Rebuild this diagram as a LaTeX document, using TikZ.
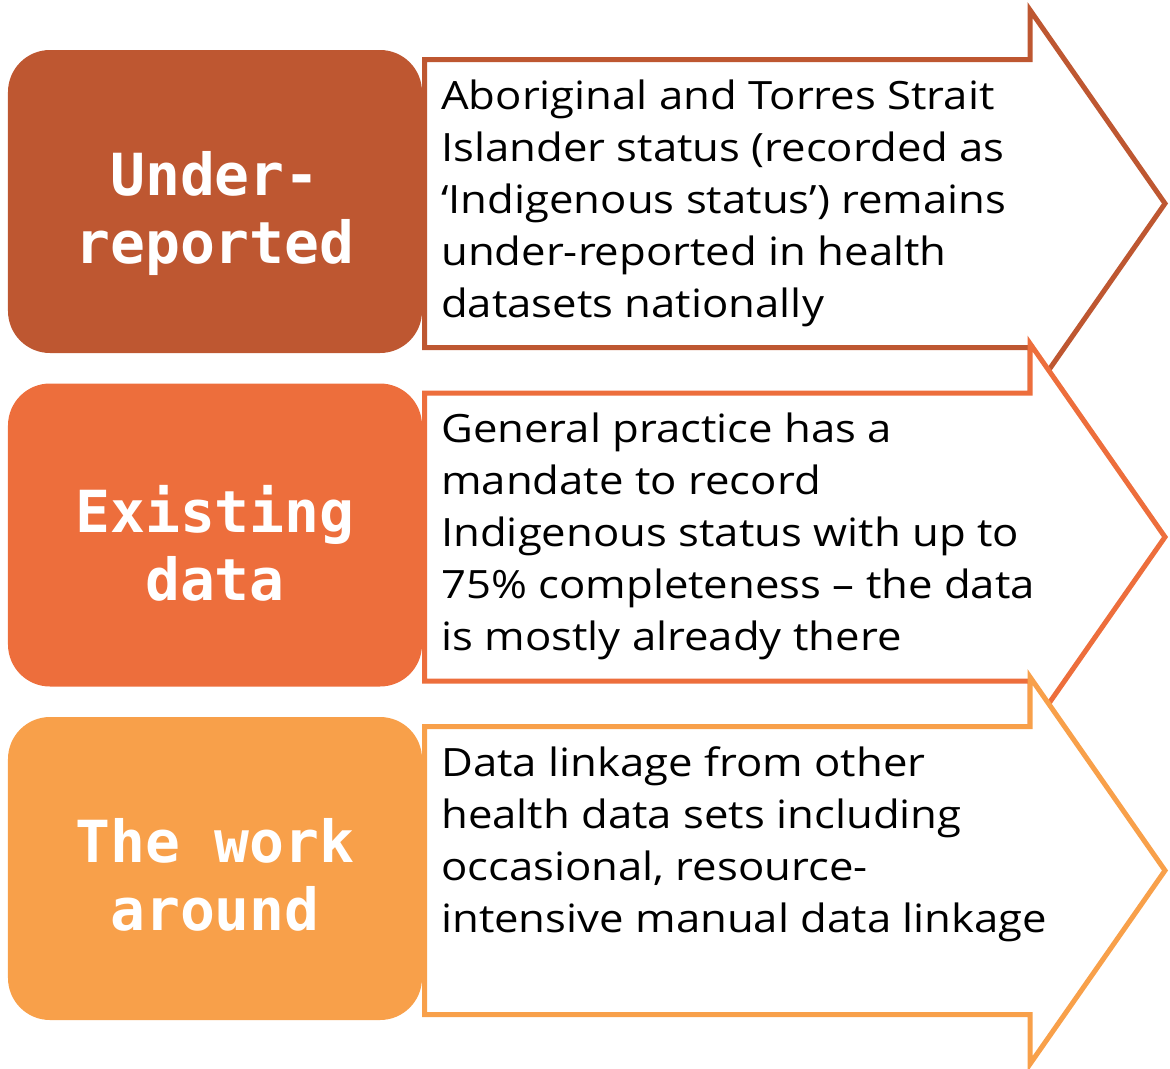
\documentclass[tikz,border=0pt]{standalone}
\usepackage{fontspec}
\setmainfont{Open Sans}[FakeStretch=1.12]
\newfontfamily\labelfont{DejaVu Sans Mono}
\definecolor{cA}{RGB}{190,87,49}
\definecolor{cB}{RGB}{237,110,60}
\definecolor{cC}{RGB}{248,160,74}
\tikzset{
  labelbox/.style={rectangle, rounded corners=42bp, minimum width=414bp, minimum height=303bp, inner sep=0pt, draw=none},
  labeltext/.style={anchor=north, align=center, inner sep=0pt, text=white, font=\labelfont\bfseries\fontsize{58bp}{68bp}\selectfont},
  arrowshape/.style={line width=5bp, miter limit=20, line join=miter, fill=white},
  bodytext/.style={anchor=north west, align=left, inner sep=0pt, text=black, font=\fontsize{39bp}{52bp}\selectfont}
}
\begin{document}
\begin{tikzpicture}[x=1bp,y=-1bp]
\useasboundingbox (0,0) rectangle (1170,1069);
% arrows
\draw[arrowshape, draw=cA] (424.5,59.5) -- (1030,59.5) -- (1030,10) -- (1165,203.5) -- (1030,397) -- (1030,347.5) -- (424.5,347.5) -- cycle;
\draw[arrowshape, draw=cB] (424.5,393) -- (1030,393) -- (1030,343.5) -- (1165,537) -- (1030,730.5) -- (1030,681) -- (424.5,681) -- cycle;
\draw[arrowshape, draw=cC] (424.5,726.5) -- (1030,726.5) -- (1030,677) -- (1165,870.5) -- (1030,1064) -- (1030,1014.5) -- (424.5,1014.5) -- cycle;
% label boxes
\node[labelbox, fill=cA] (b1) at (215,201.5) {};
\node[labelbox, fill=cB] (b2) at (215,535) {};
\node[labelbox, fill=cC] (b3) at (215,868.5) {};
\node[labeltext] (l1) at (215,151.5) {Under-\\reported};
\node[labeltext] (l2) at (215,485) {Existing\\data};
\node[labeltext] (l3) at (215,818.5) {The work\\around};
% texts
\node[bodytext] (t1) at (441,79.4) {Aboriginal and Torres Strait\\Islander status (recorded as\\‘Indigenous status’) remains\\under-reported in health\\datasets nationally};
\node[bodytext] (t2) at (441,413) {General practice has a\\mandate to record\\Indigenous status with up to\\75\% completeness – the data\\is mostly already there};
\node[bodytext] (t3) at (441,746.5) {Data linkage from other\\health data sets including\\occasional, resource-\\intensive manual data linkage};
\end{tikzpicture}
\end{document}
